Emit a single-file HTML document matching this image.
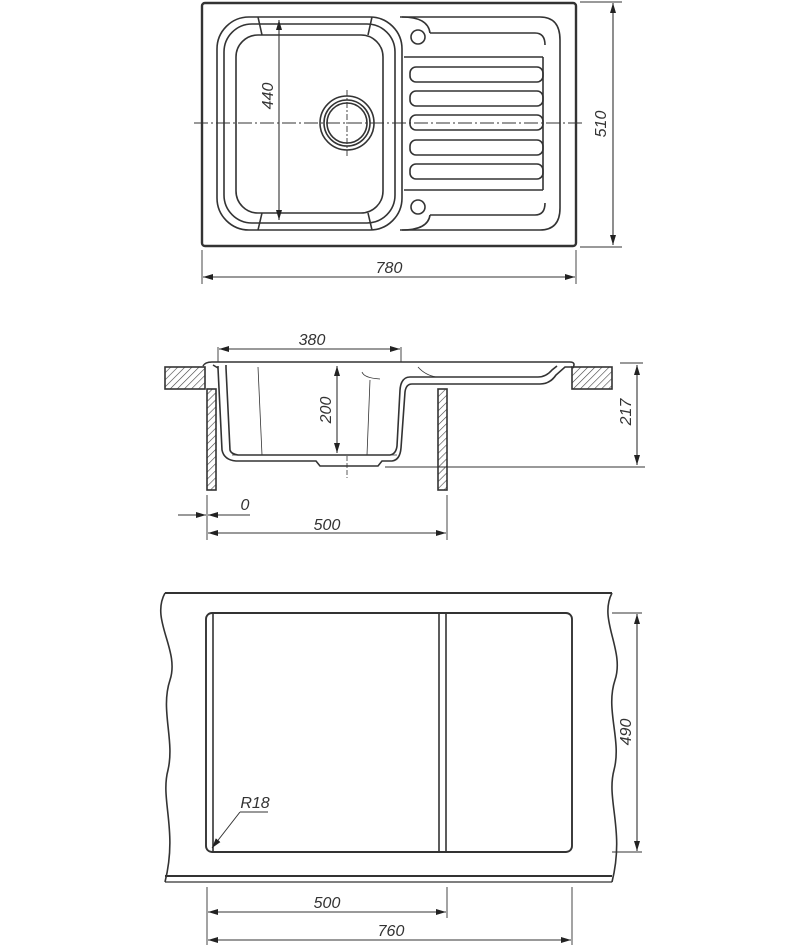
<!DOCTYPE html>
<html><head><meta charset="utf-8"><style>
html,body{margin:0;padding:0;background:#fff}
svg{display:block}
text{font-family:"Liberation Sans",sans-serif;font-style:italic;font-size:16px;fill:#333}
</style></head><body>
<svg width="800" height="950" viewBox="0 0 800 950" xmlns="http://www.w3.org/2000/svg">
<defs>
<pattern id="h" width="5" height="5" patternUnits="userSpaceOnUse" patternTransform="rotate(45)">
<rect width="5" height="5" fill="#fff"/><line x1="0" y1="0" x2="0" y2="5" stroke="#444" stroke-width="1.2"/></pattern>
<marker id="a" markerWidth="10" markerHeight="6" refX="10" refY="3" orient="auto-start-reverse" markerUnits="userSpaceOnUse"><path d="M0,0 L10,3 L0,6 Z" fill="#222"/></marker>
</defs>
<g fill="none" stroke="#333" stroke-width="1.6">
<!-- TOP VIEW -->
<rect x="202" y="3" width="374" height="243" rx="3" stroke-width="2.4"/>
<path d="M400,17 H540 Q560,17 560,40 V208 Q560,230 540,230 H400"/>
<path d="M430,33 H535 Q545,33 545,45"/>
<path d="M430,215 H535 Q545,215 545,203"/>
<path d="M402,17 Q428,17 430,33 M402,230 Q428,230 430,215"/>
<rect x="217" y="17" width="185" height="213" rx="32"/>
<rect x="224" y="24" width="171" height="199" rx="28"/>
<rect x="236" y="35" width="147" height="178" rx="22"/>
<line x1="258" y1="17" x2="262" y2="35"/><line x1="372" y1="17" x2="368" y2="35"/>
<line x1="258" y1="230" x2="262" y2="213"/><line x1="372" y1="230" x2="368" y2="213"/>
<line x1="404" y1="57" x2="543" y2="57"/><line x1="404" y1="190" x2="543" y2="190"/>
<line x1="543" y1="57" x2="543" y2="190"/>
<rect x="410" y="67" width="133" height="15" rx="6"/>
<rect x="410" y="91" width="133" height="15" rx="6"/>
<rect x="410" y="115" width="133" height="15" rx="6"/>
<rect x="410" y="140" width="133" height="15" rx="6"/>
<rect x="410" y="164" width="133" height="15" rx="6"/>
<circle cx="418" cy="37" r="7"/><circle cx="418" cy="207" r="7"/>
<circle cx="347" cy="123" r="27"/><circle cx="347" cy="123" r="23"/><circle cx="347" cy="123" r="20"/>
<path d="M194,123 H585" stroke-dasharray="14,3,2,3" stroke-width="1"/>
<path d="M347,90 V158" stroke-dasharray="6,2,2,2" stroke-width="0.9"/>
<line x1="279" y1="20" x2="279" y2="220" stroke-width="1.1" marker-start="url(#a)" marker-end="url(#a)"/>
<line x1="580" y1="2" x2="622" y2="2" stroke-width="0.9"/><line x1="580" y1="247" x2="622" y2="247" stroke-width="0.9"/>
<line x1="613" y1="3" x2="613" y2="245" stroke-width="1.1" marker-start="url(#a)" marker-end="url(#a)"/>
<line x1="202" y1="250" x2="202" y2="284" stroke-width="0.9"/><line x1="576" y1="250" x2="576" y2="284" stroke-width="0.9"/>
<line x1="203" y1="277" x2="575" y2="277" stroke-width="1.1" marker-start="url(#a)" marker-end="url(#a)"/>

<!-- SECTION -->
<rect x="165" y="367" width="40" height="22" fill="url(#h)"/>
<rect x="572" y="367" width="40" height="22" fill="url(#h)"/>
<rect x="207" y="389" width="9" height="101" fill="url(#h)"/>
<rect x="438" y="389" width="9" height="101" fill="url(#h)"/>
<path d="M203,366 Q205,362 212,362 H570 Q576,362 573,368"/>
<path d="M218,366 V368 L222,450 Q224,460 236,461 H316 L320,466 H378 L382,461 H392 Q400,460 401,448 L405,392 Q406,384 412,384 H540 Q550,384 556,375 L565,367 H572"/>
<path d="M226,368 L230,450 Q231,454 238,455 H390 Q396,454 397,446 L400,390 Q401,377 410,377 H538 Q546,377 552,370 L557,366"/>
<path d="M213,365 L218,368 M226,368 L226,365"/>
<line x1="232" y1="455" x2="397" y2="455" stroke-width="0.8"/>
<path d="M258,367 L262,455 M362,372 Q364,378 380,379 M370,380 L367,455" stroke-width="0.8"/>
<path d="M418,367 Q425,375 436,377" stroke-width="0.8"/>
<path d="M347,456 V478" stroke-dasharray="5,2" stroke-width="0.8"/>
<line x1="218" y1="347" x2="218" y2="362" stroke-width="0.9"/><line x1="401" y1="347" x2="401" y2="362" stroke-width="0.9"/>
<line x1="219" y1="349" x2="400" y2="349" stroke-width="1.1" marker-start="url(#a)" marker-end="url(#a)"/>
<line x1="337" y1="366" x2="337" y2="453" stroke-width="1.1" marker-start="url(#a)" marker-end="url(#a)"/>
<line x1="620" y1="363" x2="643" y2="363" stroke-width="0.9"/>
<line x1="385" y1="467" x2="645" y2="467" stroke-width="0.9"/>
<line x1="637" y1="365" x2="637" y2="465" stroke-width="1.1" marker-start="url(#a)" marker-end="url(#a)"/>
<line x1="207" y1="495" x2="207" y2="540" stroke-width="0.9"/><line x1="447" y1="495" x2="447" y2="540" stroke-width="0.9"/>
<line x1="178" y1="515" x2="206" y2="515" stroke-width="1.1" marker-end="url(#a)"/>
<line x1="250" y1="515" x2="208" y2="515" stroke-width="1.1" marker-end="url(#a)"/>
<line x1="208" y1="533" x2="446" y2="533" stroke-width="1.1" marker-start="url(#a)" marker-end="url(#a)"/>

<!-- BOTTOM VIEW -->
<line x1="165" y1="593" x2="612" y2="593" stroke-width="2"/>
<line x1="165" y1="876" x2="612" y2="876" stroke-width="2"/>
<line x1="165" y1="882" x2="612" y2="882" stroke-width="1.2"/>
<path d="M165,593 C150,620 180,650 170,680 C160,710 175,740 168,770 C160,800 178,830 165,882"/>
<path d="M612,593 C598,620 625,650 615,680 C605,710 622,740 614,770 C606,800 625,830 612,882"/>
<rect x="206" y="613" width="366" height="239" rx="6" stroke-width="1.9"/>
<line x1="213" y1="614" x2="213" y2="851"/>
<line x1="439" y1="613" x2="439" y2="852"/><line x1="446" y1="613" x2="446" y2="852"/>
<line x1="212" y1="848" x2="240" y2="812" stroke-width="1" marker-start="url(#a)"/>
<line x1="240" y1="812" x2="268" y2="812" stroke-width="0.9"/>
<line x1="612" y1="613" x2="642" y2="613" stroke-width="0.9"/><line x1="612" y1="852" x2="642" y2="852" stroke-width="0.9"/>
<line x1="637" y1="614" x2="637" y2="851" stroke-width="1.1" marker-start="url(#a)" marker-end="url(#a)"/>
<line x1="207" y1="887" x2="207" y2="945" stroke-width="0.9"/>
<line x1="447" y1="887" x2="447" y2="918" stroke-width="0.9"/>
<line x1="572" y1="887" x2="572" y2="945" stroke-width="0.9"/>
<line x1="208" y1="912" x2="446" y2="912" stroke-width="1.1" marker-start="url(#a)" marker-end="url(#a)"/>
<line x1="208" y1="940" x2="571" y2="940" stroke-width="1.1" marker-start="url(#a)" marker-end="url(#a)"/>
</g>
<text x="389" y="273" text-anchor="middle">780</text>
<text transform="translate(606,124) rotate(-90)" text-anchor="middle">510</text>
<text transform="translate(273,96) rotate(-90)" text-anchor="middle">440</text>
<text x="312" y="345" text-anchor="middle">380</text>
<text transform="translate(331,410) rotate(-90)" text-anchor="middle">200</text>
<text transform="translate(631,412) rotate(-90)" text-anchor="middle">217</text>
<text x="245" y="510" text-anchor="middle">0</text>
<text x="327" y="530" text-anchor="middle">500</text>
<text transform="translate(631,732) rotate(-90)" text-anchor="middle">490</text>
<text x="255" y="808" text-anchor="middle">R18</text>
<text x="327" y="908" text-anchor="middle">500</text>
<text x="391" y="936" text-anchor="middle">760</text>
</svg>
</body></html>
